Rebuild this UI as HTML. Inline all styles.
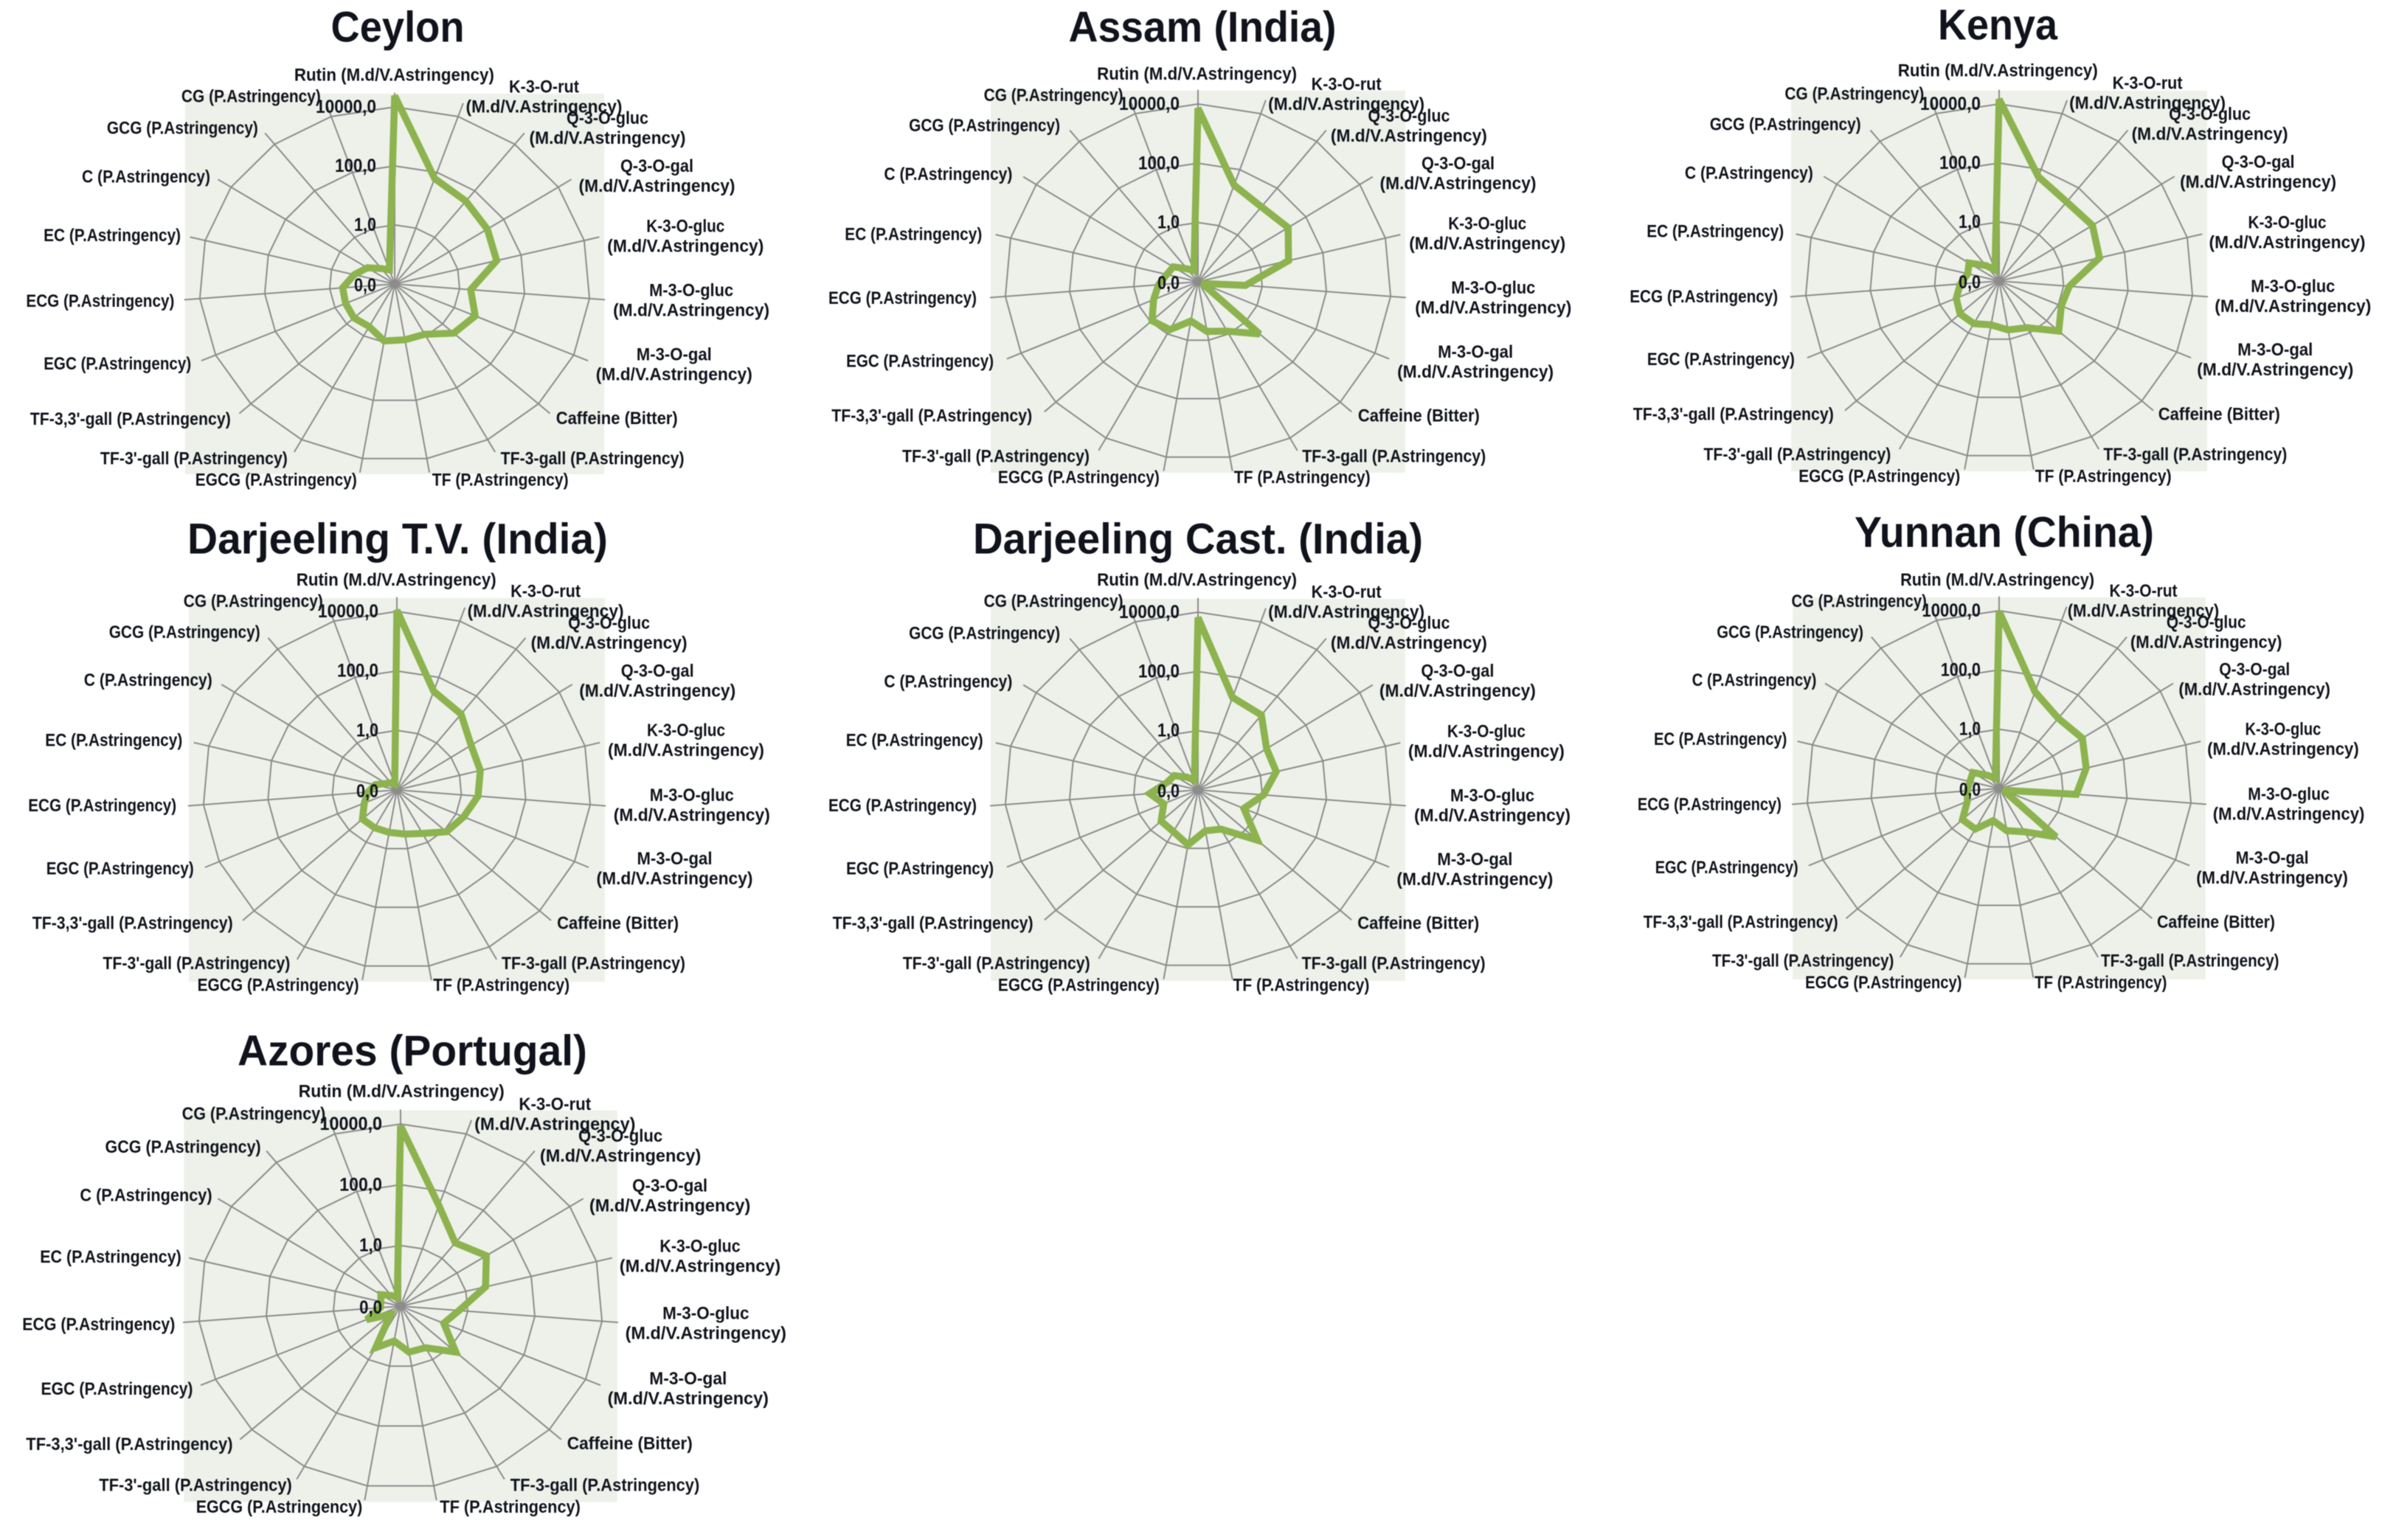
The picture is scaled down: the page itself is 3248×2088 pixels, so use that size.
<!DOCTYPE html>
<html lang="en">
<head>
<meta charset="utf-8">
<title>Radar charts of tea taste compounds by origin</title>
<style>
html,body{margin:0;padding:0;background:#fff;width:3248px;height:2088px;overflow:hidden}
svg{display:block;filter:blur(.5px)}
text{font-family:"Liberation Sans",sans-serif;font-weight:700;fill:#10131c}
</style>
</head>
<body>
<svg id="figure" xmlns="http://www.w3.org/2000/svg" width="3248" height="2088" viewBox="0 0 3248 2088"></svg>
<script>
// ---------- data ----------
const categories = ["Rutin (M.d/V.Astringency)","K-3-O-rut (M.d/V.Astringency)","Q-3-O-gluc (M.d/V.Astringency)","Q-3-O-gal (M.d/V.Astringency)","K-3-O-gluc (M.d/V.Astringency)","M-3-O-gluc (M.d/V.Astringency)","M-3-O-gal (M.d/V.Astringency)","Caffeine (Bitter)","TF-3-gall (P.Astringency)","TF (P.Astringency)","EGCG (P.Astringency)","TF-3'-gall (P.Astringency)","TF-3,3'-gall (P.Astringency)","EGC (P.Astringency)","ECG (P.Astringency)","EC (P.Astringency)","C (P.Astringency)","GCG (P.Astringency)","CG (P.Astringency)"];
const tickValues = [0.01, 1, 100, 10000];
const tickLabels = ["0,0", "1,0", "100,0", "10000,0"];
const ceylonValues = [24000,60,36,25,17,2.2,5,2.9,0.87,0.83,0.91,0.44,0.5,0.44,0.4,0.19,0.1,0.046,0.032];
const assamValues = [7200,28,16,22,7.9,0.3,0.014,4,0.79,0.5,0.22,0.69,0.87,0.32,0.17,0.1,0.083,0.036,0.025];
const kenyaValues = [14500,55,25,28,16,1.5,1.26,3.2,0.63,0.48,0.32,0.44,0.44,0.28,0.16,0.1,0.13,0.046,0.025];
const darjeelingTvValues = [11000,32,17,5.5,4.6,3.3,1.8,1.2,0.46,0.32,0.28,0.28,0.28,0.126,0.079,0.05,0.025,0.02,0.016];
const darjeelingCastValues = [6600,20,16,3.5,3.2,1.1,0.36,3.2,0.32,0.25,0.76,0.4,0.36,0.145,0.32,0.1,0.076,0.035,0.022];
const yunnanValues = [9500,28,10,12.6,6.3,2.6,0.014,2.6,0.46,0.28,0.126,0.36,0.36,0.12,0.1,0.087,0.095,0.036,0.023];
const azoresValues = [8700,32,4.4,11,4,0.55,0.25,1.7,0.36,0.34,0.145,0.36,0.025,0.126,0.04,0.04,0.05,0.028,0.02];

// ---------- layout ----------
const labelWidths = [271,95,111,99,106,114,102,165,249,185,219,254,272,200,201,186,174,205,189];
const secondLineWidth = 212;
const tickWidths = [30,30,56,82];
const labelNudge = -3;
const titleNudge = -2;
const charts = [
 {slug:"ceylon",title:"Ceylon",values:ceylonValues,cx:535,cy:385,rx:265,ry:240,tx:541,ty:37,tw:181,ox:0,oy:0,sx:1.418,sy:2.27,ls:1,
  pos:[[762,232],[1050,299],[1172,395],[1267,543],[1322,727],[1333,925],[1300,1123],[1190,1288],[1143,1412],[966,1478],[535,1478],[377,1412],[255,1290],[230,1120],[197,927],[220,725],[285,545],[355,395],[487,297]]},
 {slug:"assam",title:"Assam (India)",values:assamValues,cx:1624,cy:382,rx:262,ry:241,tx:1632,ty:37,tw:363,ox:1100,oy:0,sx:1.486,sy:2.27,ls:1,
  pos:[[781,228],[1082,291],[1208,388],[1307,535],[1366,720],[1378,917],[1342,1115],[1228,1280],[1178,1405],[993,1470],[543,1470],[376,1405],[247,1280],[223,1112],[188,918],[210,722],[280,537],[353,387],[492,294]]},
 {slug:"kenya",title:"Kenya",values:kenyaValues,cx:2710,cy:381,rx:263,ry:240,tx:2710,ty:34,tw:162,ox:2150,oy:0,sx:1.42,sy:2.27,ls:1,
  pos:[[797,218],[1085,287],[1205,382],[1298,530],[1354,716],[1365,913],[1331,1108],[1223,1276],[1177,1400],[1000,1466],[569,1466],[411,1400],[288,1276],[264,1107],[231,914],[253,713],[318,533],[388,384],[521,289]]},
 {slug:"darjeeling-tv",title:"Darjeeling T.V. (India)",values:darjeelingTvValues,cx:538,cy:1071,rx:263,ry:242,tx:541,ty:731,tw:570,ox:0,oy:690,sx:1.418,sy:2.27,ls:1,
  pos:[[766,219],[1053,285],[1175,382],[1268,530],[1323,713],[1334,913],[1301,1108],[1192,1276],[1145,1400],[968,1466],[539,1466],[382,1400],[259,1276],[235,1108],[201,914],[223,713],[289,528],[359,380],[491,285]]},
 {slug:"darjeeling-cast",title:"Darjeeling Cast. (India)",values:darjeelingCastValues,cx:1624,cy:1071,rx:262,ry:241,tx:1626,ty:731,tw:610,ox:1100,oy:690,sx:1.486,sy:2.27,ls:1,
  pos:[[781,219],[1082,287],[1208,382],[1306,530],[1364,716],[1376,914],[1341,1110],[1227,1276],[1177,1400],[991,1466],[543,1466],[377,1400],[249,1276],[223,1108],[188,914],[212,713],[280,532],[353,384],[492,285]]},
 {slug:"yunnan",title:"Yunnan (China)",values:yunnanValues,cx:2710,cy:1069,rx:261,ry:241,tx:2719,ty:722,tw:406,ox:2150,oy:690,sx:1.42,sy:2.27,ls:0.97,
  pos:[[796,219],[1077,284],[1198,380],[1291,526],[1346,709],[1357,909],[1325,1105],[1217,1272],[1167,1392],[995,1458],[577,1458],[422,1392],[302,1272],[275,1104],[242,910],[263,709],[328,528],[397,380],[530,285]]},
 {slug:"azores",title:"Azores (Portugal)",values:azoresValues,cx:543,cy:1771,rx:274,ry:247,tx:561,ty:1425,tw:474,ox:0,oy:1390,sx:1.418,sy:2.244,ls:1.03,
  pos:[[776,202],[1071,272],[1197,368],[1292,520],[1350,703],[1361,908],[1327,1106],[1215,1274],[1167,1400],[985,1467],[541,1467],[380,1400],[253,1276],[229,1107],[194,911],[217,706],[285,518],[356,371],[492,270]]}
];

// ---------- axis functions ----------
const NS = "http://www.w3.org/2000/svg";
const figure = document.getElementById("figure");
const logMin = Math.log10(tickValues[0]);
const logMax = Math.log10(tickValues[tickValues.length - 1]);
function radialFraction(value){ return (Math.log10(value) - logMin) / (logMax - logMin); }
function angleFor(index){ return index * 2 * Math.PI / categories.length; }
function polarX(chart, index, fraction){ return chart.cx + Math.sin(angleFor(index)) * chart.rx * fraction; }
function polarY(chart, index, fraction){ return chart.cy - Math.cos(angleFor(index)) * chart.ry * fraction; }
function make(tag, parent){ const el = document.createElementNS(NS, tag); parent.appendChild(el); return el; }
function fixed(n){ return n.toFixed(1); }
function putText(el, str, x, y, width, size, anchor){
  el.textContent = str;
  el.setAttribute("x", fixed(x));
  el.setAttribute("y", fixed(y));
  el.setAttribute("font-size", size);
  el.setAttribute("text-anchor", anchor);
  el.setAttribute("dominant-baseline", "central");
  el.setAttribute("textLength", fixed(width));
  el.setAttribute("lengthAdjust", "spacingAndGlyphs");
}

charts.forEach(function(chart){
  const group = make("g", figure);
  
  

  const panel = make("rect", group);
  
  
  panel.setAttribute("x", fixed(chart.cx - chart.rx * 1.072));
  panel.setAttribute("y", fixed(chart.cy - chart.ry * 1.075));
  panel.setAttribute("width", fixed(chart.rx * 2.144));
  panel.setAttribute("height", fixed(chart.ry * 2.15));
  panel.setAttribute("fill", "#eef1ea");

  tickValues.slice(1).forEach(function(tick){
    const pts = categories.map(function(_, k){ return fixed(polarX(chart, k, radialFraction(tick))) + "," + fixed(polarY(chart, k, radialFraction(tick))); });
    const ring = make("polygon", group);
    
    
    ring.setAttribute("points", pts.join(" "));
    ring.setAttribute("fill", "none");
    ring.setAttribute("stroke", "#8c8c8c");
    ring.setAttribute("stroke-width", "2");
  });

  categories.forEach(function(_, k){
    const spoke = make("line", group);
    
    
    spoke.setAttribute("x1", chart.cx);
    spoke.setAttribute("y1", chart.cy);
    spoke.setAttribute("x2", fixed(polarX(chart, k, 1.08)));
    spoke.setAttribute("y2", fixed(polarY(chart, k, 1.08)));
    spoke.setAttribute("stroke", "#8c8c8c");
    spoke.setAttribute("stroke-width", "2");
  });

  const series = make("polygon", group);
  
  
  series.setAttribute("points", chart.values.map(function(v, k){
    return fixed(polarX(chart, k, radialFraction(v))) + "," + fixed(polarY(chart, k, radialFraction(v)));
  }).join(" "));
  series.setAttribute("fill", "none");
  series.setAttribute("stroke", "#8cb34e");
  series.setAttribute("stroke-width", "9.5");
  series.setAttribute("stroke-linejoin", "miter");
  series.setAttribute("stroke-miterlimit", "3");

  tickLabels.forEach(function(label, i){
    const tick = make("text", group);
    
    
    putText(tick, label, chart.cx - 25, polarY(chart, 0, radialFraction(tickValues[i])) - (i === 0 ? -2 : 0), tickWidths[i] * chart.ls, 25, "end");
  });

  categories.forEach(function(name, k){
    const x = chart.ox + chart.pos[k][0] / chart.sx + labelNudge;
    const y = chart.oy + chart.pos[k][1] / chart.sy;
    const split = name.indexOf(" (M.d");
    if (k > 0 && split > 0) {
      const first = make("text", group);
      
      
      putText(first, name.slice(0, split), x, y - 13.5, labelWidths[k] * chart.ls, 24, "middle");
      const second = make("text", group);
      
      
      putText(second, name.slice(split + 1), x, y + 13.5, secondLineWidth * chart.ls, 24, "middle");
    } else {
      const label = make("text", group);
      
      
      putText(label, name, x, y, labelWidths[k] * chart.ls, 24, "middle");
    }
  });

  const heading = make("text", group);
  
  
  putText(heading, chart.title, chart.tx + titleNudge, chart.ty, chart.tw, 58, "middle");
});
</script>
</body>
</html>
